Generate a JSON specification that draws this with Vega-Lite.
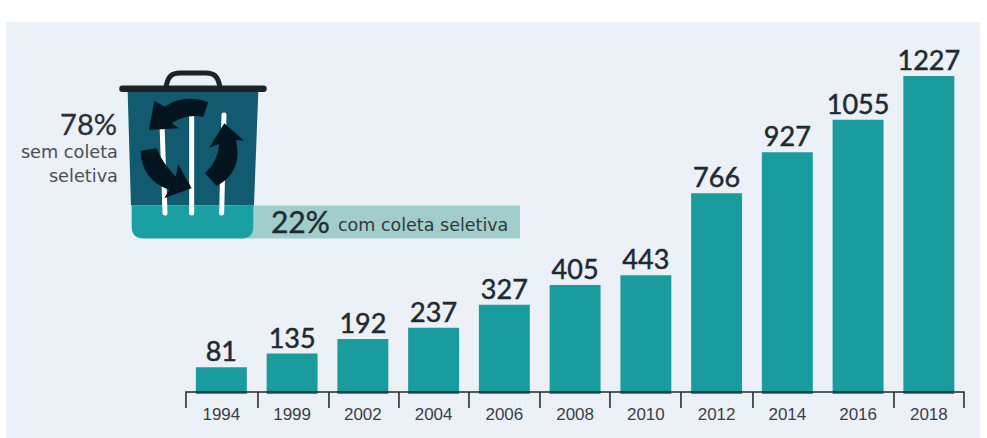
{
"$schema":"https://vega.github.io/schema/vega-lite/v6.json",
"width":974,"height":416,"autosize":{"type":"none"},
"padding":{"left":6,"top":22,"right":7,"bottom":0},
"background":"#ffffff",
"view":{"fill":"#ecf0f7","stroke":null},
"data":{"values":[
{"year":"1994","value":81},{"year":"1999","value":135},{"year":"2002","value":192},{"year":"2004","value":237},{"year":"2006","value":327},{"year":"2008","value":405},{"year":"2010","value":443},{"year":"2012","value":766},{"year":"2014","value":927},{"year":"2016","value":1055},{"year":"2018","value":1227}]},
"encoding":{
"x":{"field":"year","type":"nominal","sort":null,"title":null,
"scale":{"domain":["1994","1999","2002","2004","2006","2008","2010","2012","2014","2016","2018"],"range":[189.9,948.3],"paddingInner":0.28,"paddingOuter":0},
"axis":{"domain":false,"grid":false,"labelAngle":0,"offset":-46,"ticks":false,"tickSize":0,"labelPadding":14,"labelFont":"Liberation Sans","labelFontSize":17,"labelColor":"#3a3f45"}},
"y":{"type":"quantitative","scale":{"domain":[-197,1439],"nice":false,"zero":false},"axis":null,"title":null}
},
"layer":[
{"mark":{"type":"bar","color":"#1a9c9f"},"encoding":{"y":{"field":"value","type":"quantitative","scale":{"domain":[-197,1439],"nice":false,"zero":false},"axis":null,"title":null},"y2":{"datum":-24}}},
{"mark":{"type":"text","font":"Lato","fontSize":27,"color":"#1f2a30","stroke":"#1f2a30","strokeWidth":0.5,"baseline":"alphabetic","dy":-6},"encoding":{"y":{"field":"value","type":"quantitative"},"text":{"field":"value","type":"quantitative"}}},
{"data":{"values":[{"part":"icon"}]},
"encoding":{"x":{"datum":"1994","type":"nominal"},"y":{"datum":1000,"type":"quantitative"}},
"layer":[
{"mark":{"type":"point","size":4,"opacity":1,"filled":true,"fill":"#a1cdca","stroke":null,"shape":"M18.6,71.9 L298.6,71.9 L298.6,104.9 L18.6,104.9 Z"}},
{"mark":{"type":"point","size":4,"opacity":1,"filled":true,"fill":"#125a6f","stroke":null,"shape":"M-93.7,-41.6 L36.9,-41.6 L32.6,71.9 L-90.4,71.9 Z"}},
{"mark":{"type":"point","size":4,"opacity":1,"filled":true,"fill":"#1aa0a2","stroke":null,"shape":"M-89.7,71.9 L31.9,71.9 L31.9,92.9 Q31.9,104.9 19.9,104.9 L-77.7,104.9 Q-89.7,104.9 -89.7,92.9 Z"}},
{"mark":{"type":"point","size":4,"opacity":1,"filled":false,"fill":null,"stroke":"#ffffff","strokeWidth":5,"strokeCap":"round","shape":"M-59.7,-20.6 L-56.4,79.4 M-29.7,-18.6 L-29.7,79.4 M2.6,-18.6 L0.3,79.4"}},
{"mark":{"type":"point","size":4,"opacity":1,"filled":true,"fill":"#04141f","stroke":null,"shape":"M-67.1,-32.6 L-56.4,-26.9 Q-38.4,-40 -13.1,-31.3 L-18.1,-16.9 Q-35.4,-20 -49.7,-10.3 L-42.4,-5.3 L-72.4,-3.6 Z M-80.7,17.1 L-64.7,14.7 Q-60,28 -45.7,43.1 L-43.1,30.7 L-29.7,54.7 L-57.1,64.7 L-52.1,56.4 Q-80,46 -80.7,17.1 Z M-16.4,39.7 Q-3,27 -2.1,10.4 L-12.1,14.1 L2.9,-10.3 L22.9,7.1 L14.6,6.4 Q22,38 -4.7,52.4 Z"}},
{"mark":{"type":"point","size":4,"opacity":1,"filled":false,"fill":null,"stroke":"#1a2328","strokeWidth":6.5,"strokeCap":"round","shape":"M-98.9,-45 L42.1,-45"}},
{"mark":{"type":"point","size":4,"opacity":1,"filled":false,"fill":null,"stroke":"#1a2328","strokeWidth":5,"shape":"M-55.4,-46.6 C-53.4,-57.6 -49.4,-60.6 -41.4,-60.6 L-15.4,-60.6 C-7.4,-60.6 -3.4,-57.6 -1.4,-46.6"}},
{"mark":{"type":"point","size":4,"opacity":1,"filled":false,"fill":null,"stroke":"#1f262b","strokeWidth":1.5,"shape":"M-35.4,274.4 L-35.4,258.4 L742.6,258.4 L742.6,274.4 M36.6,258.4 L36.6,274.4 M107.6,258.4 L107.6,274.4 M177.6,258.4 L177.6,274.4 M247.6,258.4 L247.6,274.4 M318.6,258.4 L318.6,274.4 M388.6,258.4 L388.6,274.4 M459.6,258.4 L459.6,274.4 M531.6,258.4 L531.6,274.4 M672.6,258.4 L672.6,274.4"}},
{"mark":{"type":"text","text":"78%","font":"Lato","fontSize":29,"color":"#2a3136","stroke":"#2a3136","strokeWidth":0.3,"align":"right","baseline":"alphabetic","dx":-104.4,"dy":1.4}},
{"mark":{"type":"text","text":"sem coleta","font":"DejaVu Sans","fontSize":17.7,"color":"#4a4f54","align":"right","baseline":"alphabetic","dx":-103.4,"dy":24.4}},
{"mark":{"type":"text","text":"seletiva","font":"DejaVu Sans","fontSize":17.7,"color":"#4a4f54","align":"right","baseline":"alphabetic","dx":-103.4,"dy":48.4}},
{"mark":{"type":"text","text":"22%","font":"Lato","fontSize":30,"color":"#1f2a30","stroke":"#1f2a30","strokeWidth":0.4,"align":"left","baseline":"alphabetic","dx":49.6,"dy":99.4}},
{"mark":{"type":"text","text":"com coleta seletiva","font":"DejaVu Sans","fontSize":17.5,"color":"#33393e","align":"left","baseline":"alphabetic","dx":116.6,"dy":97.4}}
]}
]
}
